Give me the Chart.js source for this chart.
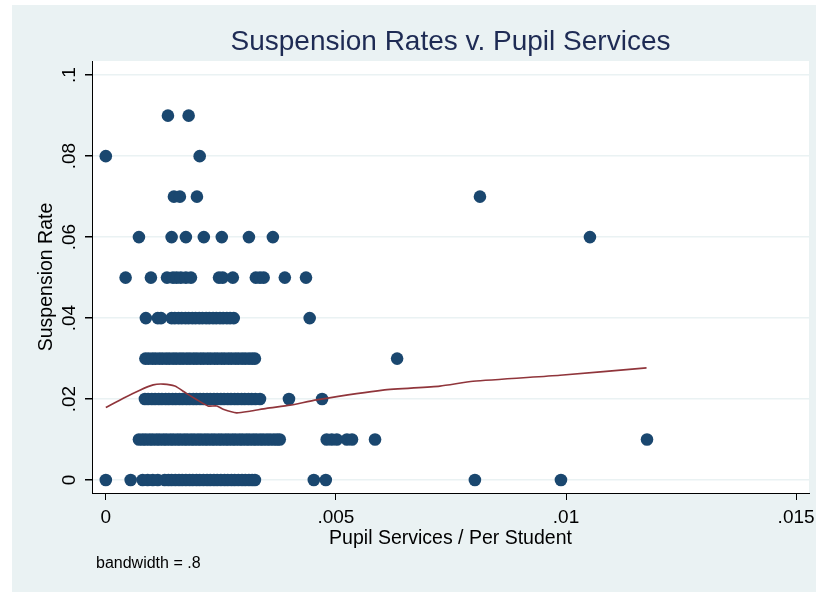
<!DOCTYPE html>
<html>
<head>
<meta charset="utf-8">
<script src="https://cdn.jsdelivr.net/npm/chart.js@4"></script>
<style>
  html, body { margin: 0; padding: 0; background: #fff; }
  canvas { display: block; }
</style>
</head>
<body>
<canvas id="chart" width="816" height="592"></canvas>
<script>
// ─────────────────────────────────────────────
//  Data (pupil services per student, grouped by suspension rate)
// ─────────────────────────────────────────────

const servAtRate000 = [0, .00054, .0008, .00091, .00102, .00113, .00128, .00136, .00143, .00151, .00159, .00166,
  .00174, .00182, .00189, .00197, .00204, .00212, .0022, .00227, .00235, .00242, .0025, .00258, .00265, .00273,
  .0028, .00288, .00296, .00303, .00311, .00318, .00324, .00452, .00478, .00802, .00989];
const servAtRate001 = [.00072, .0008, .00087, .00095, .00102, .0011, .00117, .00125, .00132, .0014, .00147, .00155,
  .00162, .0017, .00177, .00185, .00192, .002, .00207, .00215, .00222, .0023, .00237, .00245, .00252, .0026, .00267,
  .00275, .00282, .0029, .00297, .00305, .00312, .0032, .00327, .00335, .00342, .0035, .00357, .00365, .00372,
  .00378, .0048, .00491, .00502, .00524, .00535, .00585, .01176];
const servAtRate002 = [.00085, .00092, .001, .00107, .00115, .00122, .0013, .00137, .00145, .00152, .0016, .00167,
  .00175, .00182, .0019, .00197, .00205, .00212, .0022, .00227, .00235, .00242, .0025, .00257, .00265, .00272,
  .0028, .00287, .00295, .00302, .0031, .00317, .00325, .00335, .00398, .0047];
const servAtRate003 = [.00086, .00093, .00101, .00108, .00116, .00123, .00131, .00138, .00146, .00153, .00161,
  .00168, .00176, .00183, .00191, .00198, .00206, .00213, .00221, .00228, .00236, .00243, .00251, .00258, .00266,
  .00273, .00281, .00288, .00296, .00303, .00311, .00318, .00324, .00633];
const servAtRate004 = [.00087, .00113, .0012, .00143, .0015, .00158, .00165, .00173, .0018, .00188, .00195, .00203,
  .0021, .00218, .00225, .00233, .0024, .00248, .00255, .00263, .0027, .00278, .00443];
const servAtRate005 = [.00043, .00098, .00133, .00146, .00154, .00163, .00174, .00185, .00246, .00254, .00276,
  .00326, .00335, .00343, .00389, .00435];
const servAtRate006 = [.00072, .00143, .00174, .00213, .00252, .00311, .00363, .01052];
const servAtRate007 = [.00148, .00161, .00198, .00813];
const servAtRate008 = [0, .00204];
const servAtRate009 = [.00135, .0018];

const rateLevels = [0, .01, .02, .03, .04, .05, .06, .07, .08, .09];
const servRows   = [servAtRate000, servAtRate001, servAtRate002, servAtRate003, servAtRate004,
                    servAtRate005, servAtRate006, servAtRate007, servAtRate008, servAtRate009];

// lowess smooth, bandwidth .8
const lowessX = [0, .00038, .00074, .00103, .00125, .0015, .00175, .00197, .00222, .00241, .00255, .00284,
  .00313, .00349, .004, .00458, .00602, .00726, .00798, .00987, .01175];
const lowessY = [.0179, .0202, .0222, .0235, .0237, .0232, .0214, .0199, .0183, .0183, .0175, .0166,
  .017, .0177, .0185, .0198, .0222, .0232, .0244, .0259, .0277];

const xTicks      = [0, .005, .01, .015];
const xTickLabels = ['0', '.005', '.01', '.015'];
const yTicks      = [0, .02, .04, .06, .08, .1];
const yTickLabels = ['0', '.02', '.04', '.06', '.08', '.1'];

// ─────────────────────────────────────────────
//  Styling
// ─────────────────────────────────────────────

const FONT     = '"Liberation Sans", Arial, Helvetica, sans-serif';
const BG       = '#eaf2f3';
const NAVY     = '#1a476f';
const MAROON   = '#90353b';

const scatterPts = [];
servRows.forEach((row, i) => row.forEach(x => scatterPts.push({ x, y: rateLevels[i] })));
const lowessPts = lowessX.map((x, i) => ({ x, y: lowessY[i] }));

const stataFrame = {
  id: 'stataFrame',
  beforeDraw(chart) {
    const { ctx, chartArea: a } = chart;
    ctx.save();
    ctx.fillStyle = '#fff';
    ctx.fillRect(0, 0, chart.width, chart.height);
    ctx.fillStyle = BG;
    ctx.fillRect(12, 5, chart.width - 12, chart.height - 5);
    ctx.fillStyle = '#fff';
    ctx.fillRect(a.left, a.top, a.right - a.left, a.bottom - a.top);
    ctx.restore();
  },
  afterDraw(chart) {
    const { ctx, chartArea: a, scales: { y } } = chart;
    ctx.save();
    // title, centred on the plot region
    ctx.fillStyle = '#1e2b54';
    ctx.font = `28px ${FONT}`;
    ctx.textAlign = 'center';
    ctx.textBaseline = 'middle';
    ctx.fillText('Suspension Rates v. Pupil Services', (a.left + a.right) / 2, 42);
    // vertical y tick labels
    ctx.fillStyle = '#000';
    ctx.font = `19px ${FONT}`;
    y.ticks.forEach((t, i) => {
      ctx.save();
      ctx.translate(70, y.getPixelForValue(t.value));
      ctx.rotate(-Math.PI / 2);
      ctx.fillText(yTickLabels[i], 0, 0);
      ctx.restore();
    });
    // note
    ctx.textAlign = 'left';
    ctx.font = `16px ${FONT}`;
    ctx.fillText('bandwidth = .8', 96, 564);
    ctx.restore();
  }
};

new Chart(document.getElementById('chart'), {
  type: 'scatter',
  data: {
    datasets: [
      {
        type: 'line',
        data: lowessPts,
        borderColor: MAROON,
        borderWidth: 1.6,
        pointRadius: 0,
        fill: false,
        tension: 0.2,
      },
      {
        data: scatterPts,
        backgroundColor: NAVY,
        borderWidth: 0,
        pointRadius: 6.3,
      },
    ]
  },
  options: {
    responsive: false,
    animation: false,
    layout: { padding: { left: 12, top: 61, right: 7, bottom: 0 } },
    plugins: {
      legend: { display: false },
      tooltip: { enabled: false },
    },
    scales: {
      x: {
        type: 'linear',
        min: -0.0003,
        max: 0.01528,
        afterBuildTicks: s => { s.ticks = xTicks.map(v => ({ value: v })); },
        afterFit: s => { s.height = 99; s.paddingLeft = 0; s.paddingRight = 0; },
        border: { color: '#000', width: 1 },
        grid: { drawOnChartArea: false, drawTicks: true, tickLength: 7, tickColor: '#000' },
        ticks: {
          color: '#000',
          padding: 6,
          font: { family: FONT, size: 19 },
          callback: (v, i) => xTickLabels[i],
        },
        title: {
          display: true,
          text: 'Pupil Services / Per Student',
          color: '#000',
          font: { family: FONT, size: 19.5 },
          padding: { top: 0, bottom: 42 },
        },
      },
      y: {
        type: 'linear',
        min: -0.0032,
        max: 0.1035,
        afterBuildTicks: s => { s.ticks = yTicks.map(v => ({ value: v })); },
        afterFit: s => { s.width = 80; s.paddingTop = 0; s.paddingBottom = 0; },
        border: { color: '#000', width: 1 },
        grid: { color: BG, lineWidth: 1.5, drawTicks: true, tickLength: 7, tickColor: '#000' },
        ticks: { display: false },
        title: {
          display: true,
          text: 'Suspension Rate',
          color: '#000',
          font: { family: FONT, size: 19.5 },
          padding: { top: 23, bottom: 0 },
        },
      }
    }
  },
  plugins: [stataFrame]
});
</script>
</body>
</html>
